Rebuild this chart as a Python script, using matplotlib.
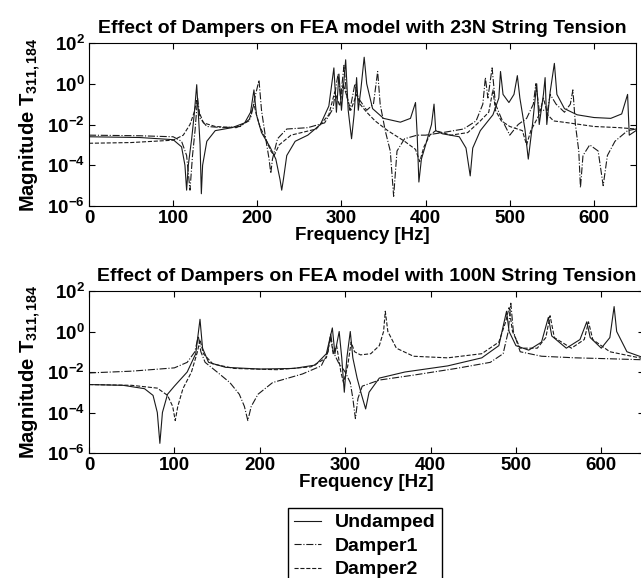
import matplotlib
matplotlib.use('Agg')
import matplotlib.pyplot as plt
from matplotlib.lines import Line2D

plt.rcParams['font.family'] = ['Liberation Sans', 'DejaVu Sans']
plt.rcParams['font.weight'] = 'bold'
plt.rcParams['axes.titleweight'] = 'bold'
plt.rcParams['axes.labelweight'] = 'bold'
plt.rcParams['mathtext.fontset'] = 'custom'
plt.rcParams['mathtext.rm'] = 'Liberation Sans:bold'
plt.rcParams['mathtext.bf'] = 'Liberation Sans:bold'
plt.rcParams['mathtext.it'] = 'Liberation Sans:bold'
plt.rcParams['mathtext.default'] = 'bf'

# --- 23N string tension (top) ---
f_top_und = [0, 60, 100, 110, 114, 116, 118, 122, 125, 128, 130, 132, 133.5, 135, 140, 150, 170, 185, 192, 196,
             199, 205, 215, 222, 227, 229, 231, 235, 245, 260, 275, 285, 291, 294, 297, 300, 305, 308, 312, 315,
             318, 320, 323, 327, 330, 337, 350, 370, 382, 388, 390, 392, 395, 400, 407, 410, 412, 420, 440, 448,
             453, 456, 465, 480, 487, 489, 492, 499, 505, 509, 512, 518, 522, 527, 532, 535, 540, 542, 544, 548,
             553, 556, 565, 580, 600, 620, 633, 640, 642, 650]
m_top_und = [2.5e-3, 2.3e-3, 1.8e-3, 8e-4, 1e-4, 6e-6, 1e-4, 2e-3, 3e-2, 9e-1, 3e-2, 1e-3, 4e-6, 1e-4, 1.5e-3, 5e-3,
             7e-3, 1.2e-2, 4e-2, 5e-1, 3e-2, 4e-3, 8e-4, 2e-4, 2e-5, 6e-6, 2e-5, 3e-4, 1.5e-3, 3e-3, 1e-2, 8e-2,
             6, 4e-2, 3, 5e-2, 15, 5e-2, 2e-3, 3e-2, 2, 5e-2, 5e-1, 20, 1, 6e-2, 2e-2, 1.3e-2, 2e-2, 1.2e-1,
             3e-3, 1.5e-5, 2e-4, 1e-3, 1e-2, 1e-1, 5e-3, 3.5e-3, 2.5e-3, 7e-4, 3e-5, 7e-4, 5e-3, 3e-2, 2e-1, 4,
             3e-1, 1.2e-1, 3e-1, 2.5, 2e-1, 6e-3, 2e-4, 1e-2, 1, 1e-2, 3e-1, 2, 1e-2, 4e-1, 10, 3e-1, 6e-2, 3e-2,
             2.2e-2, 2e-2, 3.3e-2, 3e-1, 3e-3, 5e-3]

f_top_d1 = [0, 60, 100, 110, 116, 120, 123, 126, 129, 132, 140, 160, 180, 192, 198, 202, 205, 210, 214, 216,
            218, 224, 235, 260, 280, 290, 294, 296, 299, 303, 306, 310, 316, 320, 330, 338, 343, 346, 352, 358,
            362, 366, 375, 390, 400, 420, 445, 460, 468, 471, 474, 479, 483, 490, 500, 510, 520, 528, 531, 535,
            545, 548, 555, 565, 572, 575, 578, 582, 584, 587, 595, 605, 611, 616, 625, 640, 650]
m_top_d1 = [3e-3, 2.8e-3, 2.5e-3, 1.5e-3, 3e-4, 6e-6, 3e-4, 5e-3, 2e-1, 2e-2, 8e-3, 7e-3, 8e-3, 2e-2, 3e-1, 1.5,
            5e-2, 2e-3, 2e-4, 4e-5, 2e-4, 2e-3, 6e-3, 7e-3, 1.2e-2, 6e-2, 1, 3, 2e-1, 8, 3e-1, 5e-2, 1, 2e-1,
            5e-2, 1e-1, 4, 1e-1, 5e-3, 5e-4, 3e-6, 5e-4, 2e-3, 3e-3, 3e-3, 4e-3, 6e-3, 1.5e-2, 1e-1, 2, 2e-1, 6,
            1e-1, 2e-2, 3e-3, 1e-2, 2e-2, 1e-1, 1, 5e-2, 5e-2, 3e-1, 1e-1, 4e-2, 1e-1, 5e-1, 1e-2, 5e-4, 8e-6,
            3e-4, 1e-3, 5e-4, 1e-5, 3e-4, 1.5e-3, 5e-3, 6e-3]

f_top_d2 = [0, 50, 100, 112, 120, 125, 128, 131, 136, 150, 175, 190, 196, 199, 203, 210, 216, 220, 226, 240,
            270, 285, 292, 298, 302, 307, 311, 318, 322, 330, 340, 355, 375, 388, 393, 398, 405, 412, 430, 450,
            465, 475, 480, 483, 490, 500, 515, 520, 525, 535, 540, 545, 552, 570, 600, 630, 650]
m_top_d2 = [1.2e-3, 1.3e-3, 1.7e-3, 3e-3, 1e-2, 4e-2, 1.5e-1, 4e-2, 1.2e-2, 8e-3, 7e-3, 1.5e-2, 1e-1, 3e-2, 8e-3,
            2e-3, 5e-4, 3e-4, 1e-3, 3e-3, 6e-3, 3e-2, 4e-1, 8e-2, 1, 2e-1, 5e-2, 3e-1, 1e-1, 4e-2, 1.5e-2, 5e-3,
            1.5e-3, 6e-4, 1.5e-4, 8e-4, 3e-3, 5e-3, 3e-3, 4e-3, 1.5e-2, 4e-2, 5e-1, 5e-2, 1.5e-2, 8e-3, 5e-3,
            1e-3, 5e-3, 3e-2, 2e-1, 3e-2, 1.5e-2, 1.2e-2, 8e-3, 7e-3, 6e-3]

# --- 100N string tension (bottom) ---
f_bot_und = [0, 40, 65, 75, 80, 83, 86, 92, 100, 115, 125, 130, 133, 140, 160, 200, 240, 265, 278, 285,
             288, 293, 296, 299, 302, 306, 309, 314, 319, 324, 328, 340, 370, 420, 460, 480, 489, 492, 500, 515,
             530, 538, 542, 559, 575, 583, 587, 600, 610, 615, 618, 630, 650]
m_bot_und = [2.4e-3, 2.2e-3, 1.5e-3, 7e-4, 1e-4, 3e-6, 1e-4, 8e-4, 2e-3, 1e-2, 8e-2, 4, 1.5e-1, 3e-2, 1.7e-2,
             1.4e-2, 1.5e-2, 2.2e-2, 8e-2, 1.5, 8e-2, 1, 5e-2, 1e-3, 5e-2, 1, 5e-2, 5e-3, 8e-4, 1.5e-4, 1e-3,
             5e-3, 1e-2, 2e-2, 5e-2, 2e-1, 10, 1, 2e-1, 1.2e-1, 3e-1, 5, 6e-1, 1.5e-1, 4e-1, 3, 5e-1, 1.5e-1,
             5e-1, 17, 1, 1e-1, 5e-2]

f_bot_d1 = [0, 50, 100, 115, 124, 128, 131, 136, 150, 165, 176, 182, 186, 190, 198, 215, 250, 272, 280, 283,
            286, 292, 300, 306, 309, 312, 315, 320, 340, 380, 430, 470, 485, 491, 494, 497, 505, 530, 570, 610, 650]
m_bot_d1 = [9e-3, 1.1e-2, 1.6e-2, 3e-2, 1e-1, 6e-1, 1e-1, 3e-2, 1e-2, 3e-3, 8e-4, 2e-4, 4e-5, 2e-4, 8e-4, 3e-3,
            8e-3, 2e-2, 1e-1, 8e-1, 1e-1, 3e-2, 1e-2, 3e-3, 5e-4, 5e-5, 5e-4, 2e-3, 4e-3, 7e-3, 1.5e-2, 3e-2,
            8e-2, 1, 25, 1, 1e-1, 6e-2, 5e-2, 4.5e-2, 4e-2]

f_bot_d2 = [0, 50, 80, 92, 98, 101, 104, 110, 120, 127, 130, 134, 145, 170, 220, 260, 278, 283, 286, 290,
            295, 298, 303, 307, 311, 318, 330, 340, 345, 347, 350, 360, 380, 420, 460, 480, 488, 492, 496, 505,
            525, 535, 540, 545, 565, 580, 585, 590, 610, 650]
m_bot_d2 = [2.4e-3, 2.2e-3, 1.6e-3, 7e-4, 2e-4, 4e-5, 2e-4, 1.5e-3, 1e-2, 1e-1, 4e-1, 8e-2, 2.5e-2, 1.5e-2,
            1.3e-2, 1.8e-2, 5e-2, 5e-1, 8e-2, 2e-1, 1e-2, 3e-3, 2e-2, 3e-1, 1e-1, 7e-2, 8e-2, 2e-1, 1, 10, 1,
            1.5e-1, 6e-2, 5e-2, 8e-2, 3e-1, 3, 15, 1, 1.5e-1, 1.5e-1, 5e-1, 6, 5e-1, 1.5e-1, 4e-1, 3, 4e-1,
            1e-1, 4.5e-2]

titles = ['Effect of Dampers on FEA model with 23N String Tension',
          'Effect of Dampers on FEA model with 100N String Tension']
labels = ['Undamped', 'Damper1', 'Damper2']
styles = ['-', '-.', '--']
x_ticks = [0, 100, 200, 300, 400, 500, 600]
y_ticks = [1e-6, 1e-4, 1e-2, 1e0, 1e2]

W, H = 641, 578
fig = plt.figure(figsize=(W / 100, H / 100), dpi=100)

# axes boxes in pixels: left, top, width, height
boxes = [(89, 43, 547, 163), (89, 291, 555, 162)]
data = [
    [(f_top_und, m_top_und), (f_top_d1, m_top_d1), (f_top_d2, m_top_d2)],
    [(f_bot_und, m_bot_und), (f_bot_d1, m_bot_d1), (f_bot_d2, m_bot_d2)],
]

for (l, t, w, h), series, title in zip(boxes, data, titles):
    ax = fig.add_axes([l / W, 1 - (t + h) / H, w / W, h / H])
    for (f, m), ls in zip(series, styles):
        ax.plot(f, m, ls, color='#1a1a1a', lw=0.8)
    ax.set_yscale('log')
    ax.set_xlim(0, 650)
    ax.set_ylim(1e-6, 1e2)
    ax.set_xticks(x_ticks)
    ax.set_yticks(y_ticks)
    ax.minorticks_off()
    ax.tick_params(direction='in', top=True, right=True, length=4, labelsize=13.5, pad=3)
    for sp in ax.spines.values():
        sp.set_linewidth(0.8)
    ax.set_xlabel('Frequency [Hz]', fontsize=13.5, labelpad=0)
    ax.set_ylabel('Magnitude T$_{311,184}$', fontsize=14.5, labelpad=3)
    ax.set_title(title, fontsize=14, pad=7)

handles = [Line2D([], [], ls=ls, color='#1a1a1a', lw=0.8) for ls in styles]
fig.legend(handles, labels, loc='upper center', bbox_to_anchor=(365 / W, 1 - 508 / H),
           fontsize=14, frameon=True, fancybox=False, edgecolor='black', framealpha=1,
           handlelength=1.4, handletextpad=0.7, labelspacing=0.3, borderpad=0.3, borderaxespad=0)

fig.savefig('out.png', dpi=100)
